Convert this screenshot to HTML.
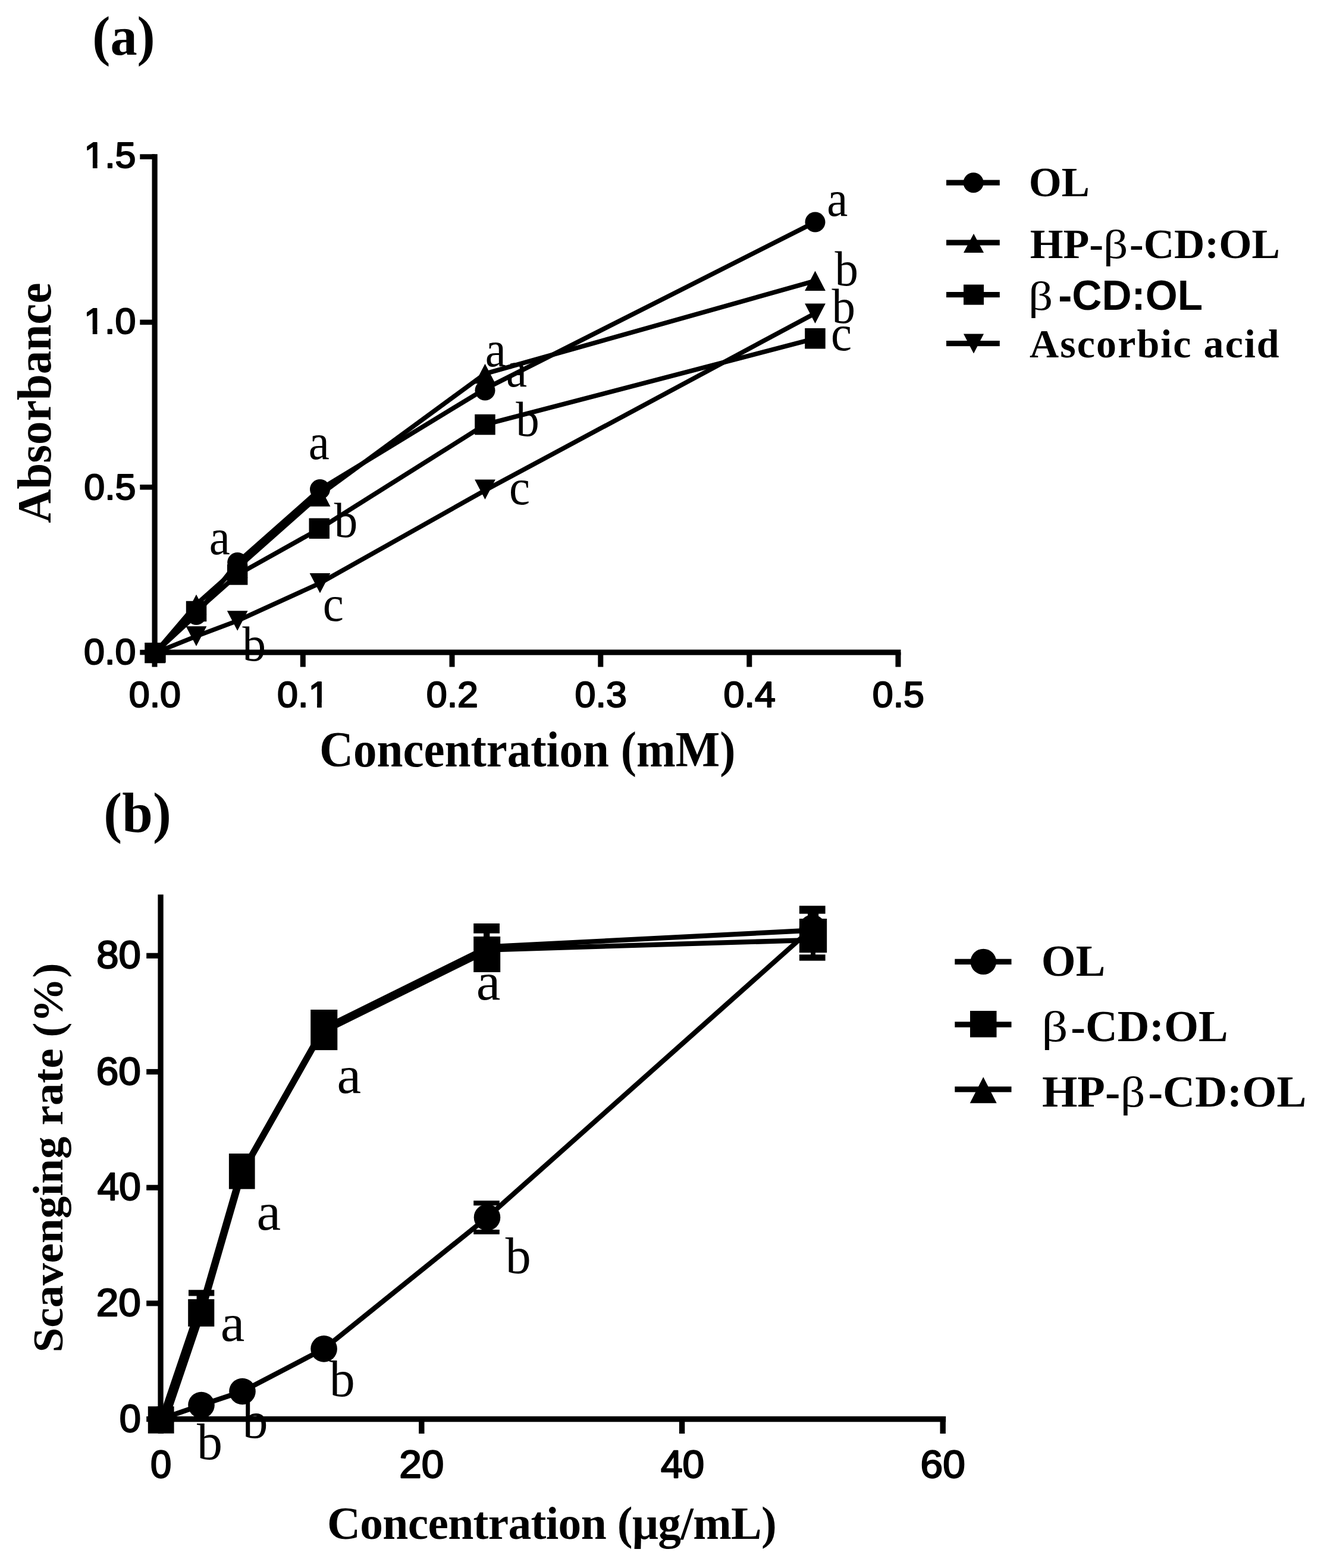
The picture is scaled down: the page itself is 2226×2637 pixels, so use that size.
<!DOCTYPE html>
<html lang="en"><head><meta charset="utf-8"><title>Figure: reducing power and scavenging rate</title>
<style>
html,body{margin:0;padding:0;background:#fff}
body{width:2226px;height:2637px;overflow:hidden}
svg{display:block}
text{fill:#000;white-space:pre}
</style></head>
<body>
<svg width="2226" height="2637" viewBox="0 0 2226 2637">
<rect x="0" y="0" width="2226" height="2637" fill="#fff"/>
<g id="chart-a">
<rect x="255.5" y="259.2" width="9.2" height="842.5" fill="#000"/>
<rect x="255.5" y="1092.5" width="1259.0" height="9.2" fill="#000"/>
<rect x="235.3" y="259.3" width="24.8" height="8.6" fill="#000"/>
<rect x="235.3" y="537.6" width="24.8" height="8.6" fill="#000"/>
<rect x="235.3" y="815.0" width="24.8" height="8.6" fill="#000"/>
<rect x="235.3" y="1092.8" width="24.8" height="8.6" fill="#000"/>
<rect x="255.5" y="1097.1" width="9.0" height="24.5" fill="#000"/>
<rect x="504.8" y="1097.1" width="9.0" height="24.5" fill="#000"/>
<rect x="755.5" y="1097.1" width="9.0" height="24.5" fill="#000"/>
<rect x="1005.3" y="1097.1" width="9.0" height="24.5" fill="#000"/>
<rect x="1255.3" y="1097.1" width="9.0" height="24.5" fill="#000"/>
<rect x="1505.5" y="1097.1" width="9.0" height="24.5" fill="#000"/>
<text transform="translate(141.26,281.77) scale(1.0139,1)" style="font-family:&quot;Liberation Sans&quot;,sans-serif;font-weight:normal;font-size:61.90px;stroke:#000;stroke-width:2.20px;stroke-linejoin:round">1.5</text>
<rect x="143.33" y="274.80" width="12.58" height="9.57" fill="#fff"/>
<rect x="163.64" y="274.80" width="12.08" height="9.57" fill="#fff"/>
<text transform="translate(141.10,560.98) scale(1.0139,1)" style="font-family:&quot;Liberation Sans&quot;,sans-serif;font-weight:normal;font-size:61.90px;stroke:#000;stroke-width:2.20px;stroke-linejoin:round">1.0</text>
<rect x="143.17" y="554.00" width="12.58" height="9.57" fill="#fff"/>
<rect x="163.48" y="554.00" width="12.08" height="9.57" fill="#fff"/>
<text transform="translate(141.26,839.68) scale(1.0139,1)" style="font-family:&quot;Liberation Sans&quot;,sans-serif;font-weight:normal;font-size:61.90px;stroke:#000;stroke-width:2.20px;stroke-linejoin:round">0.5</text>
<text transform="translate(141.10,1117.48) scale(1.0139,1)" style="font-family:&quot;Liberation Sans&quot;,sans-serif;font-weight:normal;font-size:61.90px;stroke:#000;stroke-width:2.20px;stroke-linejoin:round">0.0</text>
<text transform="translate(216.78,1188.68) scale(1.0139,1)" style="font-family:&quot;Liberation Sans&quot;,sans-serif;font-weight:normal;font-size:61.90px;stroke:#000;stroke-width:2.20px;stroke-linejoin:round">0.0</text>
<text transform="translate(466.08,1188.68) scale(1.0139,1)" style="font-family:&quot;Liberation Sans&quot;,sans-serif;font-weight:normal;font-size:61.90px;stroke:#000;stroke-width:2.20px;stroke-linejoin:round">0.1</text>
<rect x="520.49" y="1181.70" width="12.58" height="9.57" fill="#fff"/>
<rect x="540.79" y="1181.70" width="12.08" height="9.57" fill="#fff"/>
<text transform="translate(716.78,1188.68) scale(1.0139,1)" style="font-family:&quot;Liberation Sans&quot;,sans-serif;font-weight:normal;font-size:61.90px;stroke:#000;stroke-width:2.20px;stroke-linejoin:round">0.2</text>
<text transform="translate(966.58,1188.68) scale(1.0139,1)" style="font-family:&quot;Liberation Sans&quot;,sans-serif;font-weight:normal;font-size:61.90px;stroke:#000;stroke-width:2.20px;stroke-linejoin:round">0.3</text>
<text transform="translate(1216.58,1188.68) scale(1.0139,1)" style="font-family:&quot;Liberation Sans&quot;,sans-serif;font-weight:normal;font-size:61.90px;stroke:#000;stroke-width:2.20px;stroke-linejoin:round">0.4</text>
<text transform="translate(1466.78,1188.68) scale(1.0139,1)" style="font-family:&quot;Liberation Sans&quot;,sans-serif;font-weight:normal;font-size:61.90px;stroke:#000;stroke-width:2.20px;stroke-linejoin:round">0.5</text>
<text transform="translate(155.36,91.96) scale(0.9728,1)" style="font-family:&quot;Liberation Serif&quot;,serif;font-weight:bold;font-size:92.89px">(a)</text>
<text transform="translate(84.79,879.79) rotate(-90) scale(0.9802,1)" style="font-family:&quot;Liberation Serif&quot;,serif;font-weight:bold;font-size:80.71px">Absorbance</text>
<text transform="translate(537.05,1288.80) scale(0.9258,1)" style="font-family:&quot;Liberation Serif&quot;,serif;font-weight:bold;font-size:85.30px">Concentration (mM)</text>
<text transform="translate(351.83,931.55) scale(0.9300,1)" style="font-family:&quot;Liberation Serif&quot;,serif;font-weight:normal;font-size:85.00px">a</text>
<text transform="translate(518.73,772.15) scale(0.9300,1)" style="font-family:&quot;Liberation Serif&quot;,serif;font-weight:normal;font-size:85.00px">a</text>
<text transform="translate(815.83,615.65) scale(0.9300,1)" style="font-family:&quot;Liberation Serif&quot;,serif;font-weight:normal;font-size:85.00px">a</text>
<text transform="translate(850.93,649.65) scale(0.9300,1)" style="font-family:&quot;Liberation Serif&quot;,serif;font-weight:normal;font-size:85.00px">a</text>
<text transform="translate(1390.13,363.15) scale(0.9300,1)" style="font-family:&quot;Liberation Serif&quot;,serif;font-weight:normal;font-size:85.00px">a</text>
<text transform="translate(407.60,1111.18) scale(0.9700,1)" style="font-family:&quot;Liberation Serif&quot;,serif;font-weight:normal;font-size:81.50px">b</text>
<text transform="translate(561.80,902.78) scale(0.9700,1)" style="font-family:&quot;Liberation Serif&quot;,serif;font-weight:normal;font-size:81.50px">b</text>
<text transform="translate(867.20,732.68) scale(0.9700,1)" style="font-family:&quot;Liberation Serif&quot;,serif;font-weight:normal;font-size:81.50px">b</text>
<text transform="translate(1403.50,479.88) scale(0.9700,1)" style="font-family:&quot;Liberation Serif&quot;,serif;font-weight:normal;font-size:81.50px">b</text>
<text transform="translate(1398.50,542.68) scale(0.9700,1)" style="font-family:&quot;Liberation Serif&quot;,serif;font-weight:normal;font-size:81.50px">b</text>
<text transform="translate(542.64,1044.45) scale(0.9300,1)" style="font-family:&quot;Liberation Serif&quot;,serif;font-weight:normal;font-size:85.00px">c</text>
<text transform="translate(856.04,848.15) scale(0.9300,1)" style="font-family:&quot;Liberation Serif&quot;,serif;font-weight:normal;font-size:85.00px">c</text>
<text transform="translate(1396.94,589.05) scale(0.9300,1)" style="font-family:&quot;Liberation Serif&quot;,serif;font-weight:normal;font-size:85.00px">c</text>
<polyline points="260.6,1098.0 330.0,1034.0 399.2,946.0 538.0,823.0 815.5,654.0 1370.5,373.5" fill="none" stroke="#000" stroke-width="7.7" stroke-linejoin="round"/>
<polyline points="260.6,1098.0 330.0,1016.5 399.2,955.0 538.0,832.0 815.5,628.5 1370.5,472.3" fill="none" stroke="#000" stroke-width="7.7" stroke-linejoin="round"/>
<polyline points="260.6,1098.0 330.0,1028.0 399.2,966.5 538.0,888.8 815.5,714.0 1370.5,569.3" fill="none" stroke="#000" stroke-width="7.7" stroke-linejoin="round"/>
<polyline points="260.6,1098.0 330.0,1070.0 399.2,1044.0 538.0,980.7 815.5,824.6 1370.5,526.8" fill="none" stroke="#000" stroke-width="7.7" stroke-linejoin="round"/>
<circle cx="260.6" cy="1098.0" r="17.0" fill="#000"/>
<circle cx="330.0" cy="1034.0" r="17.0" fill="#000"/>
<circle cx="399.2" cy="946.0" r="17.0" fill="#000"/>
<circle cx="538.0" cy="823.0" r="17.0" fill="#000"/>
<circle cx="815.5" cy="656.5" r="17.0" fill="#000"/>
<circle cx="1370.5" cy="373.5" r="17.0" fill="#000"/>
<polygon points="260.6,1081.2 278.0,1114.8 243.2,1114.8" fill="#000"/>
<polygon points="330.0,999.8 347.4,1033.2 312.6,1033.2" fill="#000"/>
<polygon points="399.2,938.2 416.6,971.8 381.8,971.8" fill="#000"/>
<polygon points="538.0,818.2 555.4,851.8 520.6,851.8" fill="#000"/>
<polygon points="815.5,611.8 832.9,645.2 798.1,645.2" fill="#000"/>
<polygon points="1370.5,455.6 1387.9,489.1 1353.1,489.1" fill="#000"/>
<rect x="243.4" y="1080.8" width="34.5" height="34.5" fill="#000"/>
<rect x="312.8" y="1010.8" width="34.5" height="34.5" fill="#000"/>
<rect x="381.9" y="949.2" width="34.5" height="34.5" fill="#000"/>
<rect x="519.5" y="871.5" width="34.5" height="34.5" fill="#000"/>
<rect x="798.2" y="696.8" width="34.5" height="34.5" fill="#000"/>
<rect x="1353.2" y="552.0" width="34.5" height="34.5" fill="#000"/>
<polygon points="260.6,1114.8 278.0,1081.2 243.2,1081.2" fill="#000"/>
<polygon points="330.0,1086.8 347.4,1053.2 312.6,1053.2" fill="#000"/>
<polygon points="399.2,1060.8 416.6,1027.2 381.8,1027.2" fill="#000"/>
<polygon points="538.0,997.5 555.4,964.0 520.6,964.0" fill="#000"/>
<polygon points="815.5,840.1 832.9,806.6 798.1,806.6" fill="#000"/>
<polygon points="1370.5,544.0 1387.9,510.5 1353.1,510.5" fill="#000"/>
<rect x="243.6" y="1081.7" width="35.1" height="32.6" fill="#000"/>
<rect x="1591.0" y="302.6" width="89.8" height="9.2" fill="#000"/>
<circle cx="1636.6" cy="307.2" r="17.0" fill="#000"/>
<rect x="1591.0" y="403.4" width="89.8" height="9.2" fill="#000"/>
<polygon points="1637.0,393.0 1654.0,425.0 1620.0,425.0" fill="#000"/>
<rect x="1591.0" y="491.0" width="89.8" height="9.2" fill="#000"/>
<rect x="1620.0" y="478.6" width="34.0" height="34.0" fill="#000"/>
<rect x="1591.0" y="573.0" width="89.8" height="9.2" fill="#000"/>
<polygon points="1637.0,594.6 1654.0,561.6 1620.0,561.6" fill="#000"/>
<text transform="translate(1729.64,330.29) scale(0.9989,1)" style="font-family:&quot;Liberation Serif&quot;,serif;font-weight:bold;font-size:70.78px">OL</text>
<text y="434.40"><tspan x="1731.74" textLength="123.49" lengthAdjust="spacingAndGlyphs" style="font-family:&quot;Liberation Serif&quot;,serif;font-weight:bold;font-size:70.50px">HP-</tspan><tspan x="1854.67" textLength="41.71" lengthAdjust="spacingAndGlyphs" style="font-family:&quot;Liberation Serif&quot;,serif;font-weight:normal;font-size:68.00px">β</tspan><tspan x="1899.03" textLength="253.01" lengthAdjust="spacingAndGlyphs" style="font-family:&quot;Liberation Serif&quot;,serif;font-weight:bold;font-size:70.50px">-CD:OL</tspan></text>
<text y="521.30"><tspan x="1729.14" textLength="41.21" lengthAdjust="spacingAndGlyphs" style="font-family:&quot;Liberation Serif&quot;,serif;font-weight:normal;font-size:68.00px">β</tspan><tspan x="1779.22" textLength="242.87" lengthAdjust="spacingAndGlyphs" style="font-family:&quot;Liberation Sans&quot;,sans-serif;font-weight:bold;font-size:70.50px">-CD:OL</tspan></text>
<text transform="translate(1731.12,601.30)" style="font-family:&quot;Liberation Serif&quot;,serif;font-weight:bold;font-size:68.00px;letter-spacing:2.07px">Ascorbic acid</text>
</g>
<g id="chart-b">
<rect x="265.4" y="1504.4" width="9.3" height="886.9" fill="#000"/>
<rect x="265.4" y="2381.9" width="1324.8" height="9.4" fill="#000"/>
<rect x="246.2" y="1602.7" width="23.8" height="9.2" fill="#000"/>
<rect x="246.2" y="1797.9" width="23.8" height="9.2" fill="#000"/>
<rect x="246.2" y="1992.7" width="23.8" height="9.2" fill="#000"/>
<rect x="246.2" y="2187.3" width="23.8" height="9.2" fill="#000"/>
<rect x="246.2" y="2382.0" width="23.8" height="9.2" fill="#000"/>
<rect x="265.7" y="2386.6" width="9.4" height="24.4" fill="#000"/>
<rect x="704.1" y="2386.6" width="9.4" height="24.4" fill="#000"/>
<rect x="1141.9" y="2386.6" width="9.4" height="24.4" fill="#000"/>
<rect x="1580.5" y="2386.6" width="9.4" height="24.4" fill="#000"/>
<text transform="translate(162.33,1628.38) scale(1.0249,1)" style="font-family:&quot;Liberation Sans&quot;,sans-serif;font-weight:normal;font-size:65.40px;stroke:#000;stroke-width:2.30px;stroke-linejoin:round">80</text>
<text transform="translate(161.81,1823.58) scale(1.0322,1)" style="font-family:&quot;Liberation Sans&quot;,sans-serif;font-weight:normal;font-size:65.40px;stroke:#000;stroke-width:2.30px;stroke-linejoin:round">60</text>
<text transform="translate(163.68,2018.38) scale(1.0061,1)" style="font-family:&quot;Liberation Sans&quot;,sans-serif;font-weight:normal;font-size:65.40px;stroke:#000;stroke-width:2.30px;stroke-linejoin:round">40</text>
<text transform="translate(161.81,2212.98) scale(1.0322,1)" style="font-family:&quot;Liberation Sans&quot;,sans-serif;font-weight:normal;font-size:65.40px;stroke:#000;stroke-width:2.30px;stroke-linejoin:round">20</text>
<text transform="translate(200.64,2407.68) scale(0.9932,1)" style="font-family:&quot;Liberation Sans&quot;,sans-serif;font-weight:normal;font-size:65.40px;stroke:#000;stroke-width:2.30px;stroke-linejoin:round">0</text>
<text transform="translate(253.03,2484.88) scale(0.9693,1)" style="font-family:&quot;Liberation Sans&quot;,sans-serif;font-weight:normal;font-size:65.40px;stroke:#000;stroke-width:2.30px;stroke-linejoin:round">0</text>
<text transform="translate(671.21,2484.88) scale(1.0322,1)" style="font-family:&quot;Liberation Sans&quot;,sans-serif;font-weight:normal;font-size:65.40px;stroke:#000;stroke-width:2.30px;stroke-linejoin:round">20</text>
<text transform="translate(1110.88,2484.88) scale(1.0061,1)" style="font-family:&quot;Liberation Sans&quot;,sans-serif;font-weight:normal;font-size:65.40px;stroke:#000;stroke-width:2.30px;stroke-linejoin:round">40</text>
<text transform="translate(1547.61,2484.88) scale(1.0322,1)" style="font-family:&quot;Liberation Sans&quot;,sans-serif;font-weight:normal;font-size:65.40px;stroke:#000;stroke-width:2.30px;stroke-linejoin:round">60</text>
<text transform="translate(174.35,1399.40) scale(0.9717,1)" style="font-family:&quot;Liberation Serif&quot;,serif;font-weight:bold;font-size:95.54px">(b)</text>
<text transform="translate(105.43,2274.44) rotate(-90) scale(1.0350,1)" style="font-family:&quot;Liberation Serif&quot;,serif;font-weight:bold;font-size:72.57px">Scavenging rate (%)</text>
<text transform="translate(549.92,2588.20)" style="font-family:&quot;Liberation Serif&quot;,serif;font-weight:bold;font-size:77.50px;letter-spacing:-0.67px">Concentration (μg/mL)</text>
<text transform="translate(370.80,2254.92) scale(1.0400,1)" style="font-family:&quot;Liberation Serif&quot;,serif;font-weight:normal;font-size:88.00px">a</text>
<text transform="translate(431.50,2067.82) scale(1.0400,1)" style="font-family:&quot;Liberation Serif&quot;,serif;font-weight:normal;font-size:88.00px">a</text>
<text transform="translate(566.50,1837.92) scale(1.0400,1)" style="font-family:&quot;Liberation Serif&quot;,serif;font-weight:normal;font-size:88.00px">a</text>
<text transform="translate(800.70,1680.52) scale(1.0400,1)" style="font-family:&quot;Liberation Serif&quot;,serif;font-weight:normal;font-size:88.00px">a</text>
<text transform="translate(331.00,2454.14)" style="font-family:&quot;Liberation Serif&quot;,serif;font-weight:normal;font-size:86.00px">b</text>
<text transform="translate(407.50,2418.14)" style="font-family:&quot;Liberation Serif&quot;,serif;font-weight:normal;font-size:86.00px">b</text>
<text transform="translate(553.70,2347.74)" style="font-family:&quot;Liberation Serif&quot;,serif;font-weight:normal;font-size:86.00px">b</text>
<text transform="translate(849.70,2140.74)" style="font-family:&quot;Liberation Serif&quot;,serif;font-weight:normal;font-size:86.00px">b</text>
<polyline points="270.6,2386.5 338.5,2363.0 407.5,2340.0 544.6,2268.4 819.0,2047.4 1366.0,1560.5" fill="none" stroke="#000" stroke-width="8.3" stroke-linejoin="round"/>
<line x1="275.0" y1="2386.5" x2="335.5" y2="2208.0" stroke="#000" stroke-width="16.2" stroke-linecap="butt"/>
<line x1="337.5" y1="2208.0" x2="406.5" y2="1970.0" stroke="#000" stroke-width="12.6" stroke-linecap="butt"/>
<line x1="407.0" y1="1972.0" x2="544.5" y2="1729.0" stroke="#000" stroke-width="11" stroke-linecap="butt"/>
<line x1="544.5" y1="1732.0" x2="818.2" y2="1596.8" stroke="#000" stroke-width="13.9" stroke-linecap="butt"/>
<line x1="818.2" y1="1592.5" x2="1366.0" y2="1564.5" stroke="#000" stroke-width="8.3" stroke-linecap="butt"/>
<line x1="818.2" y1="1597.5" x2="1366.0" y2="1580.8" stroke="#000" stroke-width="8.3" stroke-linecap="butt"/>
<circle cx="270.6" cy="2386.5" r="22.3" fill="#000"/>
<circle cx="338.5" cy="2363.0" r="22.3" fill="#000"/>
<circle cx="407.5" cy="2340.0" r="22.3" fill="#000"/>
<circle cx="544.6" cy="2268.4" r="22.3" fill="#000"/>
<circle cx="819.0" cy="2047.4" r="22.3" fill="#000"/>
<circle cx="1366.0" cy="1560.5" r="22.3" fill="#000"/>
<rect x="248.8" y="2365.2" width="43.8" height="45.5" fill="#000"/>
<rect x="317.0" y="2169.3" width="43.3" height="10.2" fill="#000"/>
<rect x="330.6" y="2179.0" width="19.7" height="7.0" fill="#000"/>
<rect x="316.2" y="2184.9" width="44.1" height="46.0" fill="#000"/>
<rect x="384.9" y="1940.0" width="43.7" height="59.7" fill="#000"/>
<rect x="522.2" y="1698.0" width="45.1" height="68.1" fill="#000"/>
<rect x="796.2" y="1553.0" width="43.8" height="16.7" fill="#000"/>
<rect x="813.0" y="1565.0" width="10.4" height="15.0" fill="#000"/>
<rect x="796.2" y="1575.0" width="45.0" height="60.0" fill="#000"/>
<rect x="1343.9" y="1523.3" width="43.7" height="13.4" fill="#000"/>
<rect x="1358.0" y="1530.0" width="18.2" height="18.0" fill="#000"/>
<rect x="1343.9" y="1545.0" width="46.3" height="57.2" fill="#000"/>
<rect x="1363.0" y="1600.0" width="8.0" height="10.0" fill="#000"/>
<rect x="1343.9" y="1605.3" width="43.7" height="10.4" fill="#000"/>
<rect x="796.2" y="2019.2" width="43.6" height="8.2" fill="#000"/>
<rect x="796.2" y="2068.0" width="43.6" height="7.8" fill="#000"/>
<rect x="1605.3" y="1612.7" width="95.2" height="9.4" fill="#000"/>
<circle cx="1653.3" cy="1617.4" r="21.7" fill="#000"/>
<rect x="1605.3" y="1718.3" width="95.2" height="9.4" fill="#000"/>
<rect x="1631.0" y="1700.0" width="44.5" height="44.5" fill="#000"/>
<rect x="1605.3" y="1827.3" width="95.2" height="9.4" fill="#000"/>
<polygon points="1653.2,1811.2 1675.7,1855.2 1630.7,1855.2" fill="#000"/>
<text transform="translate(1750.87,1640.96) scale(1.0066,1)" style="font-family:&quot;Liberation Serif&quot;,serif;font-weight:bold;font-size:73.90px">OL</text>
<text y="1751.40"><tspan x="1751.35" textLength="44.24" lengthAdjust="spacingAndGlyphs" style="font-family:&quot;Liberation Serif&quot;,serif;font-weight:normal;font-size:72.00px">β</tspan><tspan x="1800.21" textLength="264.37" lengthAdjust="spacingAndGlyphs" style="font-family:&quot;Liberation Serif&quot;,serif;font-weight:bold;font-size:73.00px">-CD:OL</tspan></text>
<text y="1861.00"><tspan x="1751.97" textLength="131.34" lengthAdjust="spacingAndGlyphs" style="font-family:&quot;Liberation Serif&quot;,serif;font-weight:bold;font-size:73.00px">HP-</tspan><tspan x="1883.67" textLength="41.71" lengthAdjust="spacingAndGlyphs" style="font-family:&quot;Liberation Serif&quot;,serif;font-weight:normal;font-size:72.00px">β</tspan><tspan x="1930.19" textLength="266.21" lengthAdjust="spacingAndGlyphs" style="font-family:&quot;Liberation Serif&quot;,serif;font-weight:bold;font-size:73.00px">-CD:OL</tspan></text>
</g>
</svg>
</body></html>
